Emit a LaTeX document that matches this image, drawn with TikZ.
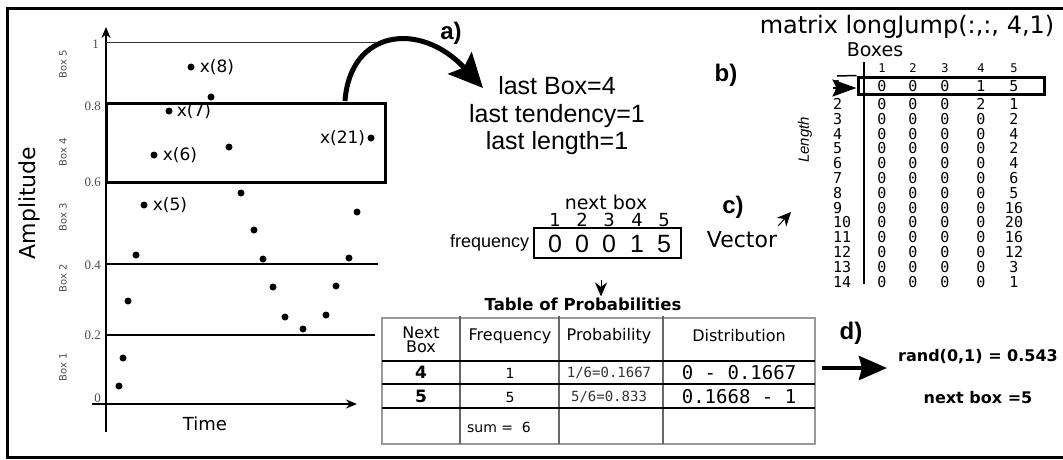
\documentclass[tikz,border=0pt]{standalone}
\usepackage{fontspec}
\setmainfont{Liberation Sans}
\newfontfamily\djv{DejaVu Sans}
\newfontfamily\djvmono{DejaVu Sans Mono}
\newfontfamily\lserif{Liberation Serif}
\usetikzlibrary{arrows.meta,positioning}
\newcommand{\setfs}[1]{\fontsize{#1}{#1}\selectfont}
\tikzstyle{sample} = [circle, fill=black, inner sep=0pt, minimum size=7pt]
\tikzstyle{xlab} = [font=\djv\setfs{17}]
\tikzstyle{ticklab} = [font=\lserif\setfs{13}, text=black!70, anchor=east]
\tikzstyle{boxlab} = [font=\djv\setfs{10}, text=black!70, rotate=90]
\tikzstyle{letter} = [font=\bfseries\setfs{24}]
\tikzstyle{matnum} = [font=\djvmono\setfs{15}, inner sep=0pt]
\tikzstyle{cell} = [font=\djv\setfs{16}, align=center]
\tikzstyle{tline} = [line width=1.5pt]
\tikzstyle{arrow} = [line width=5pt, -{Stealth[length=34pt,width=32pt,inset=6pt]}]

\begin{document}
\begin{tikzpicture}[x=1pt, y=-1pt, every node/.style={inner sep=1pt}]
    \useasboundingbox (0,0) rectangle (1063,459);
    \draw[line width=3pt] (1063,8) -- (7,8) -- (7,457) -- (1063,457);

    % plot
    \draw[line width=1.5pt, -{Stealth[length=11pt,width=9pt]}] (106,432) -- (106,27);
    \draw[line width=1.5pt, -{Stealth[length=11pt,width=9pt]}] (92,404) -- (357,404);
    \draw[line width=1pt, black!80] (106,42) -- (380,42);
    \draw[line width=2pt] (106,264) -- (378,264);
    \draw[line width=1.5pt] (106,335) -- (375,335);
    \node (boxfour) [draw, line width=3pt, minimum width=279pt, minimum height=79pt, inner sep=0pt] at (245.5,142.5) {};

    \node[ticklab] at (100,44) {1};
    \node[ticklab] at (102,106) {0.8};
    \node[ticklab] at (102,182) {0.6};
    \node[ticklab] at (102,265) {0.4};
    \node[ticklab] at (102,335) {0.2};
    \node[ticklab] at (102,398) {0};
    \foreach \n/\y in {5/64, 4/152, 3/217, 2/278, 1/367}
        \node[boxlab] at (63,\y) {Box \n};
    \node[font=\djv\setfs{22}, rotate=90] (amp) at (29,203) {Amplitude};
    \node[font=\djv\setfs{18}] (time) at (205,424) {Time};

    \foreach \i/\x/\y in {1/119/386, 2/123/358, 3/128/301, 4/136/255, 5/144/205, 6/154/155, 7/169/111,
        8/191/67, 9/211/97, 10/229/147, 11/241/193, 12/254/230, 13/263/259, 14/273/287, 15/285/317,
        16/303/329, 17/326/315, 18/336/286, 19/349/258, 20/357/212, 21/371/138}
        \node[sample] (x\i) at (\x,\y) {};
    \node[xlab, right=4pt of x5] {x(5)};
    \node[xlab, right=4pt of x6] {x(6)};
    \node[xlab, right=3pt of x7] {x(7)};
    \node[xlab, right=4pt of x8] {x(8)};
    \node[xlab, left=1pt of x21] {x(21)};

    % a)
    \node[letter] (la) at (451,33) {a)};
    \node[font=\fontsize{25}{27.5}\selectfont, align=center] (last) at (557,116) {last Box=4\\last tendency=1\\last length=1};
    \coordinate (astart) at (345,101);
    \coordinate (aend) at (483,88);
    \draw[arrow] (astart) .. controls (350,30) and (420,20) .. (aend);

    % frequency vector
    \node[font=\djv\setfs{19}] (nextbox) at (606,202) {next box};
    \node (freq) [draw, line width=1.5pt, minimum width=147pt, minimum height=30pt] at (607.5,243) {};
    \foreach \k/\x/\v in {1/555/0, 2/582/0, 3/609/0, 4/637/1, 5/664/5} {
        \node[font=\djv\setfs{18}] at (\x,220) {\k};
        \node[font=\setfs{25}] at (\x,244) {\v};
    }
    \node[font=\setfs{18}, left=3pt of freq] (freqlab) {frequency};

    % table of probabilities
    \node[font=\djv\bfseries\setfs{16.5}] (tabtitle) at (583,304) {Table of Probabilities};
    \coordinate (fdown) at (601,280);
    \draw[line width=1pt, -{Stealth[length=14pt,width=12pt]}] (fdown) -- (fdown |- tabtitle.north);
    \draw[tline, black!40] (382,318) rectangle (815,444);
    \foreach \x in {460,559,663}
        \draw[tline, black!60] (\x,316) -- (\x,444);
    \foreach \y in {361,384,408}
        \draw[tline] (382,\y) -- (815,\y);
    \node[cell] at (421,340) {Next\\[-2pt]Box};
    \node[cell] at (510,336) {Frequency};
    \node[cell] at (609,336) {Probability};
    \node[cell] at (739,336) {Distribution};
    \node[cell, font=\djv\bfseries\setfs{17}] at (421,372) {4};
    \node[cell, font=\djv\bfseries\setfs{17}] at (421,396) {5};
    \node[cell, font=\djv\setfs{14}] at (510,373) {1};
    \node[cell, font=\djv\setfs{14}] at (510,397) {5};
    \node[cell, font=\djvmono\setfs{14}, text=black!80] at (609,373) {1/6=0.1667};
    \node[cell, font=\djvmono\setfs{14}, text=black!80] at (609,397) {5/6=0.833};
    \node[cell, font=\djvmono\setfs{19}] at (739,373) {0 - 0.1667};
    \node[cell, font=\djvmono\setfs{19}] at (739,397) {0.1668 - 1};
    \node[cell, font=\djv\setfs{14}] at (499,427) {sum =\ \ 6};

    % d)
    \node[letter] (ld) at (851,333) {d)};
    \node[font=\djv\bfseries\setfs{16}] (rand) at (978,357) {rand(0,1) = 0.543};
    \node[font=\djv\bfseries\setfs{16}] (nbox) at (978,398) {next box =5};
    \coordinate (dstart) at (822,368);
    \draw[line width=4pt, -{Stealth[length=28pt,width=24pt,inset=3pt]}, shorten >=10pt] (dstart) -- (dstart -| rand.west);

    % b) matrix longJump
    \node[font=\djv\setfs{24}] (mtitle) at (907,27) {matrix longJump(:,:, 4,1)};
    \node[font=\djv\setfs{19}] (boxes) at (875,50) {Boxes};
    \node[letter] (lb) at (726,75) {b)};
    \foreach \c/\x in {1/882, 2/913, 3/945, 4/981, 5/1014}
        \node[matnum, font=\djvmono\setfs{12}] at (\x,68) {\c};
    \foreach \r/\a/\b/\c/\d/\e in {1/0/0/0/1/5, 2/0/0/0/2/1, 3/0/0/0/0/2, 4/0/0/0/0/4, 5/0/0/0/0/2,
        6/0/0/0/0/4, 7/0/0/0/0/6, 8/0/0/0/0/5, 9/0/0/0/0/16, 10/0/0/0/0/20, 11/0/0/0/0/16,
        12/0/0/0/0/12, 13/0/0/0/0/3, 14/0/0/0/0/1} {
        \pgfmathsetmacro\ry{ifthenelse(\r==1, 86, 104+(\r-2)*14.8)}
        \node[matnum, anchor=west] at (833,\ry) {\r};
        \node[matnum] at (882,\ry) {\a};
        \node[matnum] at (913,\ry) {\b};
        \node[matnum] at (945,\ry) {\c};
        \node[matnum] at (981,\ry) {\d};
        \node[matnum] at (1014,\ry) {\e};
    }
    \node (rowone) [draw, line width=3pt, minimum width=186pt, minimum height=17pt, inner sep=0pt] at (951,85.5) {};
    \draw[tline] (837,76) -- (rowone.north west);
    \draw[tline] (864,62) -- (864,284);
    \node[font=\itshape\setfs{15}, rotate=90] (lenlab) at (805,140) {Length};
    \coordinate (rstart) at (833,88);
    \draw[line width=2.5pt, -{Stealth[length=24pt,width=17pt,inset=4pt]}] (rstart) -- (rstart -| rowone.west);

    % c)
    \node[letter] (lc) at (733,207) {c)};
    \node[font=\djv\setfs{22}] (vec) at (742,240) {Vector};
    \coordinate (vstart) at (778,226);
    \coordinate (vtip) at (791,212);
    \draw[line width=1pt, -{Stealth[length=14pt,width=13pt]}] (vstart) -- (vtip);
\end{tikzpicture}
\end{document}
